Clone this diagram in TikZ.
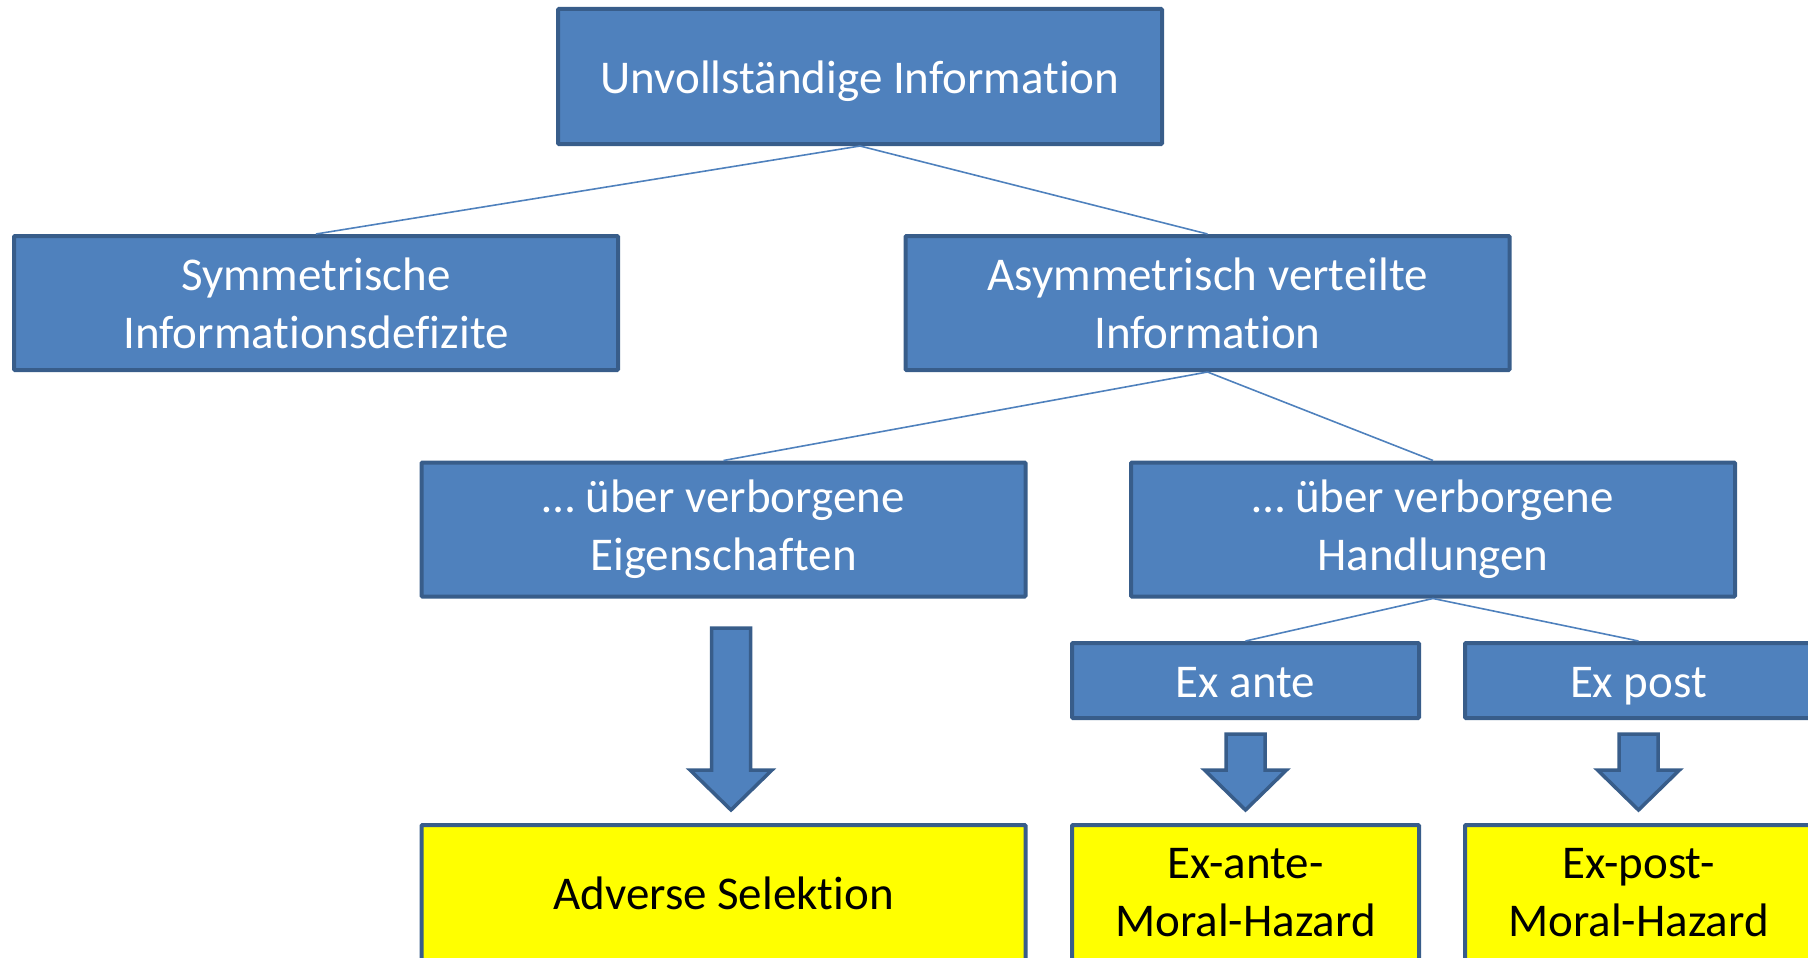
\documentclass[tikz,border=0pt]{standalone}
\usepackage{fontspec}
\setmainfont{Carlito}[Ligatures=NoCommon]
\usetikzlibrary{calc}
\definecolor{boxblue}{HTML}{4F81BD}
\definecolor{boxedge}{HTML}{385D8A}
\definecolor{boxyellow}{HTML}{FFFF00}
\tikzset{
  bluebox/.style={draw=boxedge, line width=4pt, fill=boxblue, text=white, align=center,
    inner sep=0pt, font=\fontsize{47}{58}\selectfont, rounded corners=1pt},
  yellowbox/.style={bluebox, fill=boxyellow, text=black},
  oneline/.style={text height=34pt, text depth=0pt},
  link/.style={draw=boxblue, line width=1.6pt},
  blockarrow/.style={draw=boxedge, line width=3.5pt, fill=boxblue, line join=miter}
}
\begin{document}
\begin{tikzpicture}[x=1pt,y=-1pt]
\useasboundingbox (0,0) rectangle (1808,958);
% boxes
\node[bluebox, oneline, minimum width=604pt, minimum height=135pt] (top) at (860,76.5) {Unvollständige Information};
\node[bluebox, minimum width=604pt, minimum height=134pt] (sym) at (316,303) {Symmetrische\\Informationsdefizite};
\node[bluebox, minimum width=604pt, minimum height=134pt] (asym) at (1207.5,303) {Asymmetrisch verteilte\\Information};
\node[bluebox, minimum width=604pt, minimum height=134pt] (eig) at (723.5,529.5) {… über verborgene\\Eigenschaften};
\node[bluebox, minimum width=604pt, minimum height=134pt] (hand) at (1433,529.5) {… über verborgene\\Handlungen};
\node[bluebox, oneline, minimum width=347pt, minimum height=75pt] (exante) at (1245.5,680.5) {Ex ante};
\node[bluebox, oneline, minimum width=347pt, minimum height=75pt] (expost) at (1638.5,680.5) {Ex post};
\node[yellowbox, oneline, minimum width=604pt, minimum height=135pt] (adv) at (723.5,892.5) {Adverse Selektion};
\node[yellowbox, minimum width=347pt, minimum height=135pt] (exantemh) at (1245.5,892.5) {Ex-ante-\\Moral-Hazard};
\node[yellowbox, minimum width=347pt, minimum height=135pt] (expostmh) at (1638.5,892.5) {Ex-post-\\Moral-Hazard};
% connectors
\draw[link] (top.south) -- (sym.north);
\draw[link] (top.south) -- (asym.north);
\draw[link] (asym.south) -- (eig.north);
\draw[link] (asym.south) -- (hand.north);
\draw[link] (hand.south) -- (exante.north);
\draw[link] (hand.south) -- (expost.north);
% block arrows
\coordinate (a1) at (731,628);
\coordinate (a2) at (1245.5,734);
\coordinate (a3) at (1638.5,734);
\draw[blockarrow] (a1) ++(-19.5,0) -- ++(39,0) -- ++(0,142) -- ++(21.5,0) -- ($(a1)+(0,182)$) -- ($(a1)+(-41,142)$) -- ++(21.5,0) -- cycle;
\draw[blockarrow] (a2) ++(-19.5,0) -- ++(39,0) -- ++(0,36) -- ++(21.5,0) -- ($(a2)+(0,76)$) -- ($(a2)+(-41,36)$) -- ++(21.5,0) -- cycle;
\draw[blockarrow] (a3) ++(-19.5,0) -- ++(39,0) -- ++(0,36) -- ++(21.5,0) -- ($(a3)+(0,76)$) -- ($(a3)+(-41,36)$) -- ++(21.5,0) -- cycle;
\end{tikzpicture}
\end{document}
